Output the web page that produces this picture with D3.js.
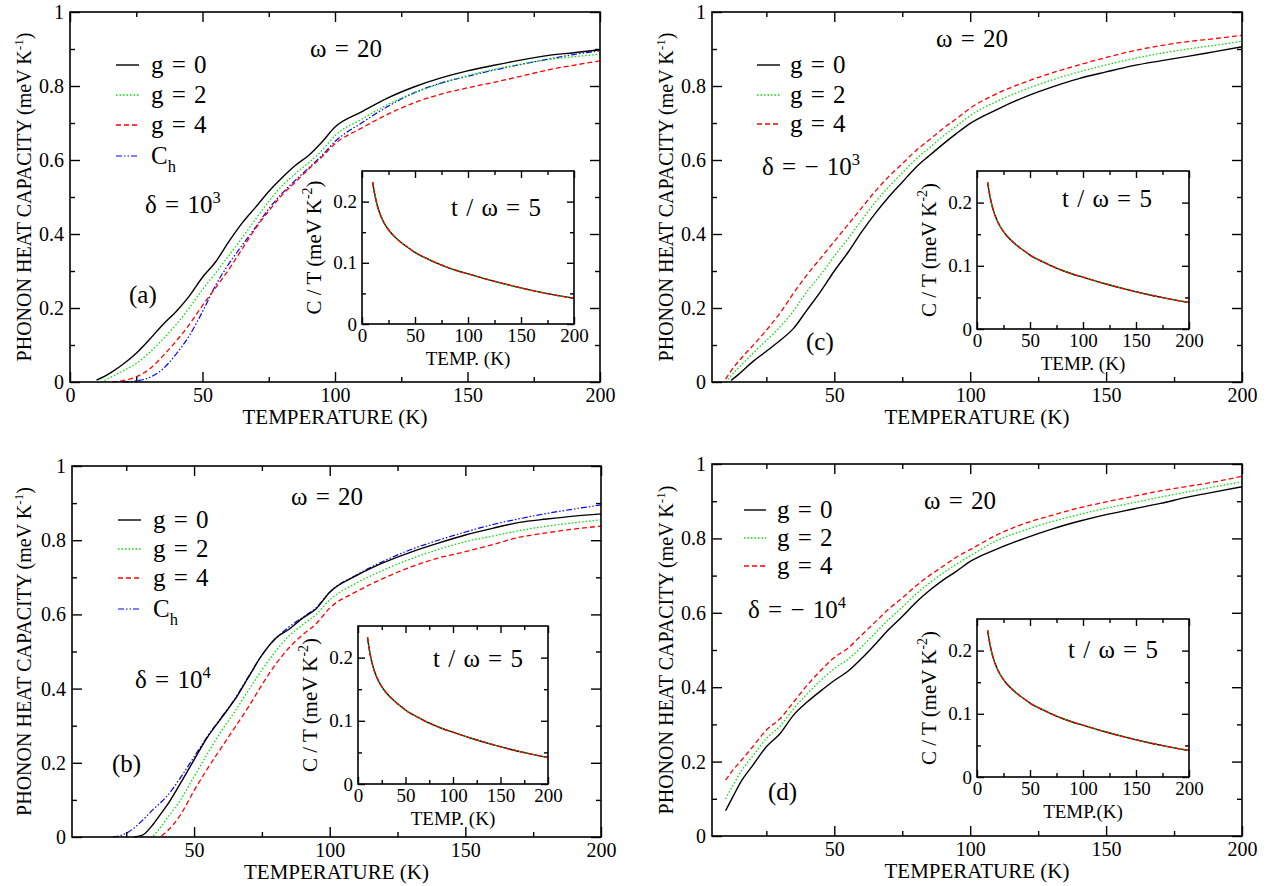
<!DOCTYPE html>
<html>
<head>
<meta charset="utf-8">
<script src="https://cdn.jsdelivr.net/npm/d3@7"></script>
<style>
body { margin: 0; background: #fff; }
svg { display: block; font-family: "Liberation Serif", "Times New Roman", serif; }
.note { word-spacing: 2px; }
</style>
</head>
<body>
<svg id="chart" width="1275" height="886"></svg>
<script>
// ---- data ----

// (a) delta = 10^3
var tempA = [10, 13, 16, 20, 25, 30, 35, 40, 45, 50, 55, 60, 65, 70, 75, 80, 85, 90, 95, 100, 110, 120, 130, 140, 150, 160, 170, 180, 190, 200];
var aG0 = [0.005, 0.015, 0.028, 0.048, 0.078, 0.115, 0.155, 0.19, 0.232, 0.283, 0.325, 0.38, 0.43, 0.472, 0.515, 0.552, 0.585, 0.612, 0.648, 0.689, 0.73, 0.768, 0.798, 0.822, 0.841, 0.856, 0.87, 0.882, 0.89, 0.898];
var aG2 = [null, 0.004, 0.015, 0.03, 0.05, 0.08, 0.115, 0.155, 0.2, 0.25, 0.295, 0.342, 0.39, 0.44, 0.488, 0.53, 0.563, 0.592, 0.625, 0.666, 0.71, 0.75, 0.782, 0.807, 0.828, 0.845, 0.859, 0.871, 0.879, 0.886];
var aG4 = [null, null, 0.0, 0.004, 0.014, 0.035, 0.07, 0.11, 0.155, 0.207, 0.255, 0.305, 0.36, 0.415, 0.462, 0.505, 0.54, 0.575, 0.608, 0.644, 0.686, 0.724, 0.755, 0.778, 0.795, 0.81, 0.826, 0.843, 0.856, 0.868];
var aCh = [null, null, null, 0.0, 0.003, 0.012, 0.035, 0.075, 0.125, 0.19, 0.262, 0.32, 0.37, 0.418, 0.468, 0.51, 0.545, 0.578, 0.612, 0.65, 0.7, 0.745, 0.782, 0.808, 0.826, 0.843, 0.858, 0.872, 0.885, 0.895];

// (b) delta = 10^4
var tempB = [20, 25, 28, 31, 35, 38, 40, 45, 50, 55, 60, 65, 70, 75, 80, 85, 90, 95, 100, 110, 120, 130, 140, 150, 160, 170, 180, 190, 200];
var bG0 = [null, null, 0.0, 0.005, 0.035, 0.065, 0.085, 0.145, 0.208, 0.27, 0.32, 0.37, 0.43, 0.49, 0.535, 0.56, 0.59, 0.615, 0.66, 0.705, 0.74, 0.768, 0.792, 0.814, 0.832, 0.848, 0.857, 0.865, 0.871];
var bG2 = [null, null, null, null, 0.003, 0.03, 0.05, 0.1, 0.163, 0.225, 0.285, 0.338, 0.395, 0.45, 0.5, 0.542, 0.572, 0.6, 0.639, 0.685, 0.72, 0.75, 0.775, 0.796, 0.811, 0.826, 0.838, 0.847, 0.855];
var bG4 = [null, null, null, null, null, 0.003, 0.015, 0.06, 0.125, 0.185, 0.24, 0.295, 0.35, 0.41, 0.465, 0.51, 0.545, 0.575, 0.617, 0.662, 0.698, 0.728, 0.752, 0.769, 0.788, 0.808, 0.82, 0.83, 0.838];
var bCh = [0.0, 0.01, 0.025, 0.045, 0.075, 0.095, 0.11, 0.16, 0.216, 0.272, 0.322, 0.372, 0.432, 0.49, 0.535, 0.566, 0.592, 0.618, 0.66, 0.707, 0.744, 0.775, 0.8, 0.822, 0.842, 0.858, 0.872, 0.884, 0.895];

// (c) delta = -10^3
var tempC = [10, 12, 15, 20, 25, 30, 35, 40, 45, 50, 55, 60, 65, 70, 75, 80, 85, 90, 95, 100, 110, 120, 130, 140, 150, 160, 170, 180, 190, 200];
var cG0 = [null, 0.004, 0.022, 0.055, 0.083, 0.112, 0.145, 0.195, 0.245, 0.3, 0.35, 0.405, 0.455, 0.5, 0.54, 0.58, 0.612, 0.643, 0.672, 0.699, 0.737, 0.77, 0.797, 0.82, 0.838, 0.855, 0.868, 0.88, 0.893, 0.906];
var cG2 = [0.0, 0.017, 0.04, 0.077, 0.112, 0.149, 0.192, 0.245, 0.29, 0.34, 0.387, 0.437, 0.485, 0.527, 0.565, 0.602, 0.633, 0.664, 0.692, 0.72, 0.759, 0.79, 0.816, 0.838, 0.857, 0.874, 0.888, 0.9, 0.91, 0.921];
var cG4 = [0.008, 0.03, 0.058, 0.098, 0.14, 0.186, 0.24, 0.29, 0.335, 0.38, 0.425, 0.47, 0.515, 0.555, 0.59, 0.625, 0.655, 0.685, 0.712, 0.74, 0.78, 0.81, 0.835, 0.857, 0.877, 0.895, 0.909, 0.92, 0.928, 0.937];

// (d) delta = -10^4
var tempD = [10, 13, 16, 20, 25, 30, 35, 40, 45, 50, 55, 60, 65, 70, 75, 80, 85, 90, 95, 100, 110, 120, 130, 140, 150, 160, 170, 180, 190, 200];
var dG0 = [0.068, 0.11, 0.15, 0.19, 0.24, 0.275, 0.325, 0.36, 0.39, 0.418, 0.443, 0.477, 0.515, 0.555, 0.59, 0.628, 0.66, 0.688, 0.712, 0.738, 0.772, 0.8, 0.825, 0.846, 0.864, 0.879, 0.894, 0.911, 0.925, 0.939];
var dG2 = [0.1, 0.14, 0.177, 0.215, 0.262, 0.295, 0.342, 0.382, 0.418, 0.45, 0.475, 0.508, 0.545, 0.582, 0.615, 0.65, 0.68, 0.707, 0.731, 0.753, 0.795, 0.822, 0.845, 0.864, 0.881, 0.896, 0.911, 0.925, 0.939, 0.952];
var dG4 = [0.15, 0.18, 0.205, 0.24, 0.285, 0.315, 0.36, 0.405, 0.445, 0.48, 0.505, 0.54, 0.575, 0.61, 0.64, 0.672, 0.7, 0.725, 0.75, 0.77, 0.81, 0.84, 0.862, 0.882, 0.898, 0.913, 0.928, 0.94, 0.952, 0.967];

// insets: C / T, all four panels look the same
var insetT = [10, 12, 15, 20, 25, 30, 35, 40, 45, 50, 55, 60, 70, 80, 90, 100, 120, 140, 160, 180, 200];
var insetCT = [0.232, 0.212, 0.19, 0.168, 0.154, 0.144, 0.136, 0.129, 0.123, 0.117, 0.112, 0.108, 0.1, 0.093, 0.087, 0.082, 0.072, 0.063, 0.055, 0.048, 0.042];

// ticks
var yMajor = [0, 0.2, 0.4, 0.6, 0.8, 1];
var yMinor = [0.1, 0.3, 0.5, 0.7, 0.9];
var xMajorA = [0, 50, 100, 150, 200];
var xMajor = [50, 100, 150, 200];
var xMinor = [25, 75, 125, 175];
var inYMajor = [0, 0.1, 0.2];
var inYMinor = [0.05, 0.15];
var inXMajor = [0, 50, 100, 150, 200];

// ---- styles ----
var styles = {
	g0: { color: '#000', dash: null, width: 1.4 },
	g2: { color: '#00e000', dash: '1.5,2', width: 1.3 },
	g4: { color: '#ff0000', dash: '5,3', width: 1.3 },
	ch: { color: '#0000ff', dash: '6,2,1.5,2,1.5,2', width: 1.2 }
};
var legendText = {
	g0: [['g = 0']],
	g2: [['g = 2']],
	g4: [['g = 4']],
	ch: [['C'], ['h', 'sub']]
};

var panels = [
	{
		box: [70, 12, 600, 382], xDomain: [0, 200], xTicks: xMajorA, temp: tempA,
		series: [['g0', aG0], ['g2', aG2], ['g4', aG4], ['ch', aCh]],
		inset: [362, 171, 574, 324], insetXLabel: 'TEMP. (K)',
		omega: [346, 57], legX: [116, 139, 151], legRows: [65, 95, 125, 156],
		delta: [145, 213, [['δ = 10'], ['3', 'sup']]], tag: [129, 303, '(a)'],
		tw: [451, 216, 't / ω  = 5'], yTitleX: 31
	},
	{
		box: [72, 466, 601, 837], xDomain: [5, 200], xTicks: xMajor, temp: tempB,
		series: [['g0', bG0], ['g2', bG2], ['g4', bG4], ['ch', bCh]],
		inset: [358, 626, 548, 784], insetXLabel: 'TEMP. (K)',
		omega: [327, 505], legX: [118, 141, 153], legRows: [520, 549, 578, 609],
		delta: [135, 688, [['δ = 10'], ['4', 'sup']]], tag: [112, 772, '(b)'],
		tw: [433, 667, 't / ω = 5'], yTitleX: 31
	},
	{
		box: [712, 12, 1242, 382], xDomain: [5, 200], xTicks: xMajor, temp: tempC,
		series: [['g0', cG0], ['g2', cG2], ['g4', cG4]],
		inset: [977, 171, 1189, 329], insetXLabel: 'TEMP. (K)',
		omega: [972, 47], legX: [757, 780, 790], legRows: [65, 95, 124],
		delta: [762, 175, [['δ = − 10'], ['3', 'sup']]], tag: [806, 350, '(c)'],
		tw: [1062, 207, 't / ω = 5'], yTitleX: 673
	},
	{
		box: [712, 464, 1242, 836], xDomain: [5, 200], xTicks: xMajor, temp: tempD,
		series: [['g0', dG0], ['g2', dG2], ['g4', dG4]],
		inset: [977, 619, 1189, 777], insetXLabel: 'TEMP.(K)',
		omega: [960, 509], legX: [744, 766, 777], legRows: [510, 538, 566],
		delta: [748, 618, [['δ = − 10'], ['4', 'sup']]], tag: [768, 800, '(d)'],
		tw: [1068, 658, 't / ω = 5'], yTitleX: 673
	}
];

var svg = d3.select('#chart');

// text with super/subscripts, parts = [[text, 'sup'|'sub'|undefined], ...]
function rich(sel, x, y, parts, size, anchor) {
	var t, shift = 0;
	t = sel.append('text')
		.attr('x', x).attr('y', y)
		.attr('font-size', size)
		.attr('text-anchor', anchor || 'start');
	parts.forEach(function(p) {
		var s = p[1] === 'sup' ? -0.42 * size : (p[1] === 'sub' ? 0.3 * size : 0);
		var ts = t.append('tspan').attr('dy', s - shift).text(p[0]);
		if (p[1]) {
			ts.attr('font-size', size * 0.66);
		}
		shift = s;
	});
	return t;
}

// inward ticks on all four sides, labels only bottom and left
function frameAxes(g, x, y, box, xMaj, xMin, yMaj, yMin, big, small, fontSize, pad) {
	var sides = [
		[d3.axisBottom(x), 'translate(0,' + box[3] + ')', xMaj, xMin, true],
		[d3.axisTop(x), 'translate(0,' + box[1] + ')', xMaj, xMin, false],
		[d3.axisLeft(y), 'translate(' + box[0] + ',0)', yMaj, yMin, true],
		[d3.axisRight(y), 'translate(' + box[2] + ',0)', yMaj, yMin, false]
	];
	sides.forEach(function(s) {
		var maj, min;
		maj = g.append('g').attr('transform', s[1])
			.call(s[0].tickValues(s[2]).tickSize(-big).tickPadding(pad)
				.tickFormat(s[4] ? String : ''));
		maj.attr('font-family', null).attr('font-size', null);
		maj.select('.domain').remove();
		maj.selectAll('line').attr('stroke-width', 1.4);
		maj.selectAll('text').attr('font-size', fontSize).attr('fill', '#000');

		min = g.append('g').attr('transform', s[1])
			.call(s[0].tickValues(s[3]).tickSize(-small).tickFormat(''));
		min.select('.domain').remove();
		min.selectAll('line').attr('stroke-width', 1.4);
	});
	g.append('rect')
		.attr('x', box[0]).attr('y', box[1])
		.attr('width', box[2] - box[0]).attr('height', box[3] - box[1])
		.attr('fill', 'none').attr('stroke', '#000').attr('stroke-width', 1.6);
}

function drawPanel(p) {
	var g, x, y, line, ix, iy, ib, ig, iline;
	g = svg.append('g');
	x = d3.scaleLinear().domain(p.xDomain).range([p.box[0], p.box[2]]);
	y = d3.scaleLinear().domain([0, 1]).range([p.box[3], p.box[1]]);

	line = d3.line()
		.defined(function(d) { return d[1] !== null; })
		.x(function(d) { return x(d[0]); })
		.y(function(d) { return y(d[1]); })
		.curve(d3.curveMonotoneX);

	// curves (g0 drawn last so it sits on top)
	p.series.slice().reverse().forEach(function(s) {
		var st = styles[s[0]];
		g.append('path')
			.datum(p.temp.map(function(t, i) { return [t, s[1][i]]; }))
			.attr('d', line)
			.attr('fill', 'none')
			.attr('stroke', st.color)
			.attr('stroke-width', st.width)
			.attr('stroke-dasharray', st.dash);
	});

	frameAxes(g, x, y, p.box, p.xTicks, xMinor, yMajor, yMinor, 10, 5, 20, 6);

	// axis titles
	g.append('text')
		.attr('x', (p.box[0] + p.box[2]) / 2).attr('y', p.box[3] + 42)
		.attr('text-anchor', 'middle').attr('font-size', 21)
		.text('TEMPERATURE (K)');
	rich(g.append('g').attr('transform', 'translate(' + p.yTitleX + ',' + (p.box[1] + p.box[3]) / 2 + ') rotate(-90)'),
		0, 0, [['PHONON HEAT CAPACITY (meV K'], ['-1', 'sup'], [')']], 20, 'middle');

	// legend
	p.series.forEach(function(s, i) {
		var st = styles[s[0]], ry = p.legRows[i];
		g.append('line')
			.attr('x1', p.legX[0]).attr('x2', p.legX[1])
			.attr('y1', ry).attr('y2', ry)
			.attr('stroke', st.color).attr('stroke-width', st.width)
			.attr('stroke-dasharray', st.dash);
		rich(g, p.legX[2], ry + 8, legendText[s[0]], 25).attr('class', 'note');
	});

	// annotations
	rich(g, p.omega[0], p.omega[1], [['ω = 20']], 25, 'middle').attr('class', 'note');
	rich(g, p.delta[0], p.delta[1], p.delta[2], 25).attr('class', 'note');
	rich(g, p.tag[0], p.tag[1], [[p.tag[2]]], 25);

	// inset
	ib = p.inset;
	ig = g.append('g');
	ig.append('rect')
		.attr('x', ib[0]).attr('y', ib[1])
		.attr('width', ib[2] - ib[0]).attr('height', ib[3] - ib[1])
		.attr('fill', '#fff');
	ix = d3.scaleLinear().domain([0, 200]).range([ib[0], ib[2]]);
	iy = d3.scaleLinear().domain([0, 0.25]).range([ib[3], ib[1]]);
	iline = d3.line()
		.x(function(d) { return ix(d[0]); })
		.y(function(d) { return iy(d[1]); })
		.curve(d3.curveMonotoneX);
	['g0', 'g2', 'g4'].forEach(function(k) {
		var st = styles[k];
		ig.append('path')
			.datum(insetT.map(function(t, i) { return [t, insetCT[i]]; }))
			.attr('d', iline)
			.attr('fill', 'none')
			.attr('stroke', st.color)
			.attr('stroke-width', st.width)
			.attr('stroke-dasharray', st.dash);
	});
	frameAxes(ig, ix, iy, ib, inXMajor, xMinor, inYMajor, inYMinor, 7, 4, 19, 5);
	ig.append('text')
		.attr('x', (ib[0] + ib[2]) / 2).attr('y', ib[3] + 41)
		.attr('text-anchor', 'middle').attr('font-size', 19)
		.text(p.insetXLabel);
	rich(ig.append('g').attr('transform', 'translate(' + (ib[0] - 41) + ',' + (ib[1] + ib[3]) / 2 + ') rotate(-90)'),
		0, 0, [['C / T (meV K'], ['-2', 'sup'], [')']], 21, 'middle');
	rich(ig, p.tw[0], p.tw[1], [[p.tw[2]]], 25).attr('class', 'note');
}

panels.forEach(drawPanel);
</script>
</body>
</html>
